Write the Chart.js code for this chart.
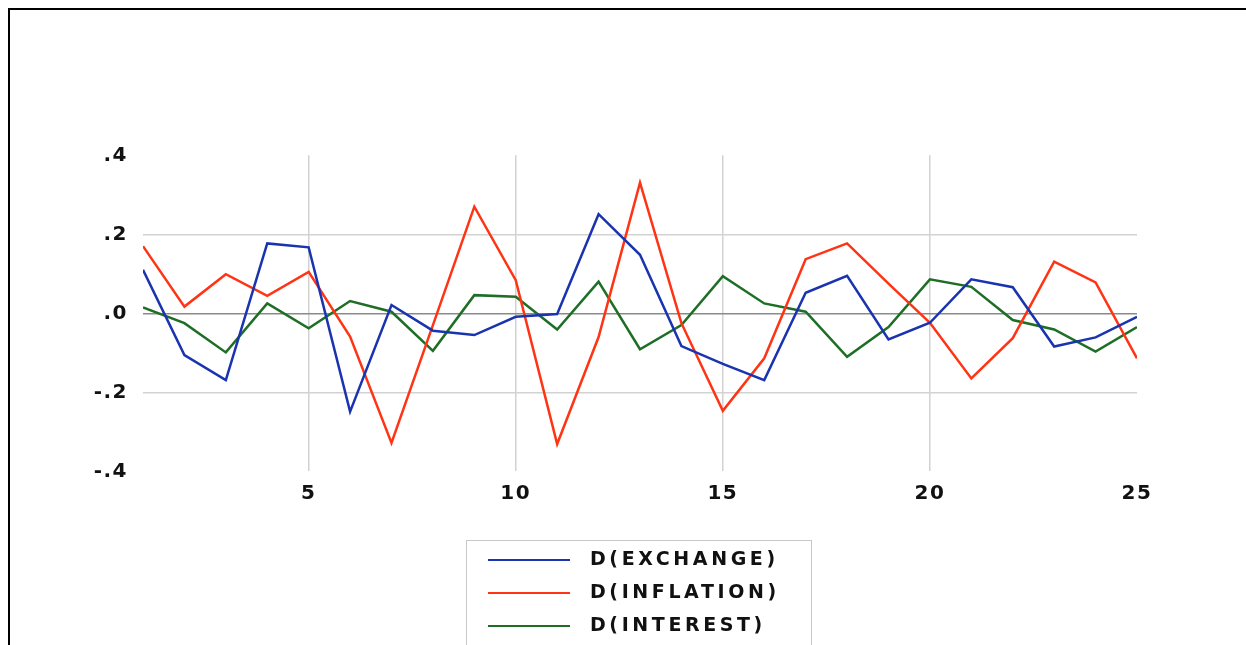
<!DOCTYPE html>
<html>
<head>
<meta charset="utf-8">
<script src="https://cdn.jsdelivr.net/npm/chart.js@4/dist/chart.umd.min.js"></script>
<style>
    html, body { margin: 0; padding: 0; background: #fff; }
    #wrap { position: relative; width: 1246px; height: 645px; overflow: hidden; }
    #frame { position: absolute; left: 8px; top: 8px; right: -10px; bottom: -10px;
             border-top: 2px solid #000; border-left: 2px solid #000; }
    #chart { position: absolute; left: 0; top: 0; }
    #legend { position: absolute; left: 466px; top: 540px; width: 346px; height: 130px;
              border: 1.5px solid #c8c8c8; box-sizing: border-box; }
    .row { position: absolute; left: 0; height: 30px; width: 100%; }
    .row .sw { position: absolute; left: 21px; top: 16px; width: 82px; height: 2px; }
    .row .lab { position: absolute; left: 123px; top: 0; line-height: 30px;
                font-family: "DejaVu Sans", sans-serif; font-size: 19px; font-weight: bold;
                letter-spacing: 3.6px; color: #111; white-space: nowrap; }
</style>
</head>
<body>
<div id="wrap">
    <div id="frame"></div>
    <canvas id="chart" width="1246" height="645"></canvas>
    <div id="legend"></div>
</div>
<script>
const periods = [1, 2, 3, 4, 5, 6, 7, 8, 9, 10, 11, 12, 13, 14, 15, 16, 17, 18, 19, 20, 21, 22, 23, 24, 25];

const dExchange = [0.110, -0.106, -0.169, 0.177, 0.167, -0.249, 0.021, -0.044, -0.055, -0.009,
                   -0.002, 0.251, 0.148, -0.083, -0.128, -0.169, 0.052, 0.095, -0.066, -0.024,
                   0.086, 0.066, -0.084, -0.061, -0.009];
const dInflation = [0.170, 0.017, 0.099, 0.044, 0.105, -0.059, -0.328, -0.030, 0.270, 0.084,
                    -0.331, -0.060, 0.331, -0.025, -0.247, -0.114, 0.137, 0.177, 0.075, -0.024,
                    -0.165, -0.063, 0.131, 0.078, -0.114];
const dInterest = [0.015, -0.025, -0.099, 0.025, -0.038, 0.031, 0.004, -0.095, 0.046, 0.042,
                   -0.041, 0.080, -0.091, -0.030, 0.094, 0.025, 0.004, -0.110, -0.035, 0.086,
                   0.067, -0.017, -0.041, -0.097, -0.035];

const xTicks = [5, 10, 15, 20, 25];
const yTicks = [-0.4, -0.2, 0, 0.2, 0.4];

const seriesNames = ['D(EXCHANGE)', 'D(INFLATION)', 'D(INTEREST)'];
const seriesColors = ['#1a34b0', '#ff3414', '#1f6e26'];

const toPoints = vals => vals.map((v, i) => ({ x: periods[i], y: v }));

const fmtY = v => {
    if (Math.abs(v) < 1e-9) return '.0';
    return v.toFixed(1).replace('0.', '.');
};

const tickFont = { family: 'DejaVu Sans', size: 20, weight: 'bold' };

// wider tick text, the reference glyphs are stretched
const spacing = {
    id: 'spacing',
    beforeDraw: c => { c.ctx.letterSpacing = '1.5px'; }
};

const chart = new Chart(document.getElementById('chart'), {
    type: 'line',
    data: {
        datasets: [dExchange, dInflation, dInterest].map((vals, i) => ({
            label: seriesNames[i],
            data: toPoints(vals),
            borderColor: seriesColors[i],
            borderWidth: 2.5,
            pointRadius: 0,
            tension: 0,
            fill: false
        }))
    },
    options: {
        responsive: false,
        animation: false,
        layout: { padding: { left: 0, top: 155.3, right: 109, bottom: 0 } },
        plugins: { legend: { display: false }, tooltip: { enabled: false } },
        scales: {
            x: {
                type: 'linear',
                min: 1,
                max: 25,
                afterBuildTicks: s => { s.ticks = xTicks.map(v => ({ value: v })); },
                afterFit: s => { s.height = 645 - 471.3; },
                border: { display: false },
                grid: {
                    drawTicks: false,
                    lineWidth: 1.5,
                    color: c => (c.tick && c.tick.value === 25) ? 'rgba(0,0,0,0)' : '#d2d2d2'
                },
                ticks: { font: tickFont, color: '#111', padding: 10, maxRotation: 0 }
            },
            y: {
                min: -0.4,
                max: 0.4,
                afterBuildTicks: s => { s.ticks = yTicks.map(v => ({ value: v })); },
                afterFit: s => { s.width = 143; },
                border: { display: false },
                grid: {
                    drawTicks: false,
                    lineWidth: c => (c.tick && Math.abs(c.tick.value) < 1e-9) ? 1.6 : 1.5,
                    color: c => {
                        if (!c.tick) return '#d2d2d2';
                        const v = c.tick.value;
                        if (Math.abs(v) < 1e-9) return '#8a8a8a';
                        if (Math.abs(Math.abs(v) - 0.4) < 1e-9) return 'rgba(0,0,0,0)';
                        return '#d2d2d2';
                    }
                },
                ticks: { font: tickFont, color: '#111', padding: 15, callback: v => fmtY(v) }
            }
        }
    },
    plugins: [spacing]
});

// legend box below the plot
const legend = document.getElementById('legend');
chart.data.datasets.forEach((ds, i) => {
    const row = document.createElement('div');
    row.className = 'row';
    row.style.top = (2 + i * 33) + 'px';
    const sw = document.createElement('div');
    sw.className = 'sw';
    sw.style.background = ds.borderColor;
    const lab = document.createElement('div');
    lab.className = 'lab';
    lab.textContent = ds.label;
    row.appendChild(sw);
    row.appendChild(lab);
    legend.appendChild(row);
});
</script>
</body>
</html>
